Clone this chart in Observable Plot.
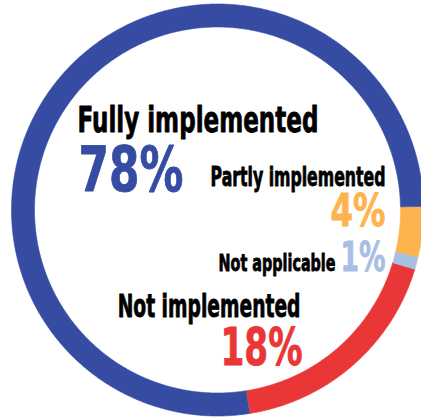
<!DOCTYPE html>
<html>
<head>
<meta charset="utf-8">
<script src="https://cdn.jsdelivr.net/npm/d3@7"></script>
<script src="https://cdn.jsdelivr.net/npm/@observablehq/plot@0.6"></script>
<style>
  html, body { margin: 0; padding: 0; background: #fff; overflow: hidden; }
  #chart { width: 421px; height: 419px; overflow: hidden; }
</style>
</head>
<body>
<div id="chart"></div>
<script>
// ---- data ----
const categories = ["Partly implemented", "Not applicable", "Not implemented", "Fully implemented"];
const shares = [4, 1, 18, 78];
const colors = ["#FDB44F", "#A6BFE2", "#E93637", "#354CA2"];

// ---- layout (pixels) ----
const W = 421, H = 419;
const cx = 217, cy = 209.5;
const rOuter = 206, rInner = 183;
const startDeg = 89; // clockwise from top
// label placement: category index, kind, x, cap-centre y, anchor, font size, drawn width
const labelLayout = [
  {i: 3, kind: "name",  x: 77,  y: 120,   anchor: "start", size: 36, w: 241},
  {i: 3, kind: "value", x: 78,  y: 170.5, anchor: "start", size: 62, w: 105},
  {i: 0, kind: "name",  x: 385, y: 177,   anchor: "end",   size: 27, w: 175},
  {i: 0, kind: "value", x: 385, y: 211,   anchor: "end",   size: 44, w: 55},
  {i: 1, kind: "name",  x: 335, y: 263.5, anchor: "end",   size: 23, w: 117},
  {i: 1, kind: "value", x: 385, y: 257.5, anchor: "end",   size: 40, w: 45},
  {i: 2, kind: "name",  x: 300, y: 306.5, anchor: "end",   size: 32, w: 183},
  {i: 2, kind: "value", x: 302, y: 348.5, anchor: "end",   size: 51, w: 82}
];

// ---- build ring polygons from the data ----
const rad = d => d * Math.PI / 180;
const pie = d3.pie().sort(null).value(d => d.v)
  .startAngle(rad(startDeg)).endAngle(rad(startDeg + 360));
const arcs = pie(categories.map((c, k) => ({c, v: shares[k]})));
const ringPts = [];
arcs.forEach(a => {
  const n = Math.max(4, Math.ceil((a.endAngle - a.startAngle) / rad(0.5)));
  const outer = d3.range(n + 1).map(j => a.startAngle + (a.endAngle - a.startAngle) * j / n);
  outer.forEach(t => ringPts.push({cat: a.data.c, x: rOuter * Math.sin(t), y: rOuter * Math.cos(t)}));
  outer.slice().reverse().forEach(t => ringPts.push({cat: a.data.c, x: rInner * Math.sin(t), y: rInner * Math.cos(t)}));
});

const labels = labelLayout.map(l => ({
  text: l.kind === "name" ? categories[l.i] : shares[l.i] + "%",
  color: l.kind === "name" ? "#000000" : colors[l.i],
  x: l.x - cx, y: cy - l.y, anchor: l.anchor, size: l.size, w: l.w
}));

const fontFamily = "'DejaVu Sans Condensed', 'DejaVu Sans', sans-serif";

const plot = Plot.plot({
  width: W, height: H,
  margin: 0,
  x: {domain: [-cx, W - cx], axis: null},
  y: {domain: [cy - H, cy], axis: null},
  color: {domain: categories, range: colors},
  style: {fontFamily, background: "#fff"},
  marks: [
    Plot.line(ringPts, {x: "x", y: "y", z: "cat", fill: "cat", stroke: "cat", strokeWidth: 0.6, curve: "linear"}),
    ...labels.map(l => Plot.text([l], {
      x: "x", y: "y", text: "text", fill: "color",
      textAnchor: l.anchor, fontSize: l.size, fontWeight: "bold",
      stroke: "color", strokeWidth: 0.8, lineAnchor: "middle"
    }))
  ]
});
document.getElementById("chart").appendChild(plot);

// squeeze each label horizontally (about its anchor) to the condensed lettering of the original
const texts = Array.from(plot.querySelectorAll("text"));
texts.forEach((t, k) => {
  const l = labels[k];
  if (!l) return;
  const bb = t.getBBox();
  if (!bb.width) return;
  const s = l.w / bb.width;
  const ax = l.anchor === "end" ? bb.x + bb.width : bb.x;
  const prev = t.getAttribute("transform") || "";
  t.setAttribute("transform", `${prev} translate(${ax},0) scale(${s},1) translate(${-ax},0)`.trim());
});
</script>
</body>
</html>
